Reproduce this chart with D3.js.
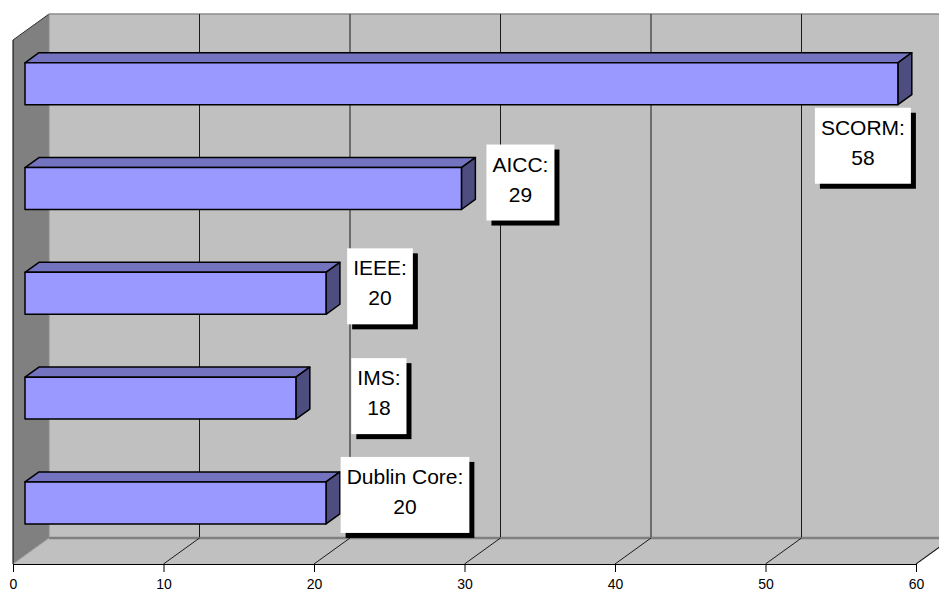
<!DOCTYPE html>
<html>
<head>
<meta charset="utf-8">
<script src="https://cdn.jsdelivr.net/npm/d3@7"></script>
<style>
  html, body { margin: 0; padding: 0; background: #ffffff; }
  svg { display: block; font-family: "Liberation Sans", Arial, sans-serif; }
</style>
</head>
<body>
<svg id="chart" width="939" height="591"></svg>
<script>
// Chart data
const categories = ["SCORM", "AICC", "IEEE", "IMS", "Dublin Core"];
const values = [58, 29, 20, 18, 20];
const tickValues = [0, 10, 20, 30, 40, 50, 60];
// Label box centre offsets (px) from each bar's front right end
const labelOffsetX = [-35, 59, 54, 83, 79];
const labelOffsetY = [62, -6, -7, -2, -8];

const W = 939, H = 591;
const svg = d3.select("#chart");

// Front plane scales
const x = d3.scaleLinear().domain([0, 60]).range([13, 916]);
const y = d3.scaleBand().domain(categories).range([40, 564])
  .paddingInner(0.6).paddingOuter(0.3);

// Oblique depth projection
const DX = 36, DY = -26;
const P = (px, py, t) => [px + DX * t, py + DY * t];
const yTop = 40, yBot = 564;
const barT1 = 1 / 3, barT2 = 0.72;

const poly = pts => "M" + pts.map(p => p.join(",")).join("L") + "Z";

// Back wall
svg.append("path")
  .attr("d", poly([P(x(0), yTop, 1), P(x(60), yTop, 1), P(x(60), yBot, 1), P(x(0), yBot, 1)]))
  .attr("fill", "#c0c0c0");

// Side wall
svg.append("path")
  .attr("d", poly([P(x(0), yTop, 0), P(x(0), yTop, 1), P(x(0), yBot, 1), P(x(0), yBot, 0)]))
  .attr("fill", "#808080");

// Floor
svg.append("path")
  .attr("d", poly([P(x(0), yBot, 0), P(x(60), yBot, 0), P(x(60), yBot, 1), P(x(0), yBot, 1)]))
  .attr("fill", "#c0c0c0");

// Wall edges
const line = (a, b, color, w) => svg.append("line")
  .attr("x1", a[0]).attr("y1", a[1]).attr("x2", b[0]).attr("y2", b[1])
  .attr("stroke", color).attr("stroke-width", w);

line(P(x(0), yTop, 1), P(x(60), yTop, 1), "#8c8c8c", 1.5);
line(P(x(0), yBot, 1), P(x(60), yBot, 1), "#808080", 2.5);
line(P(x(0), yBot, 0), P(x(0), yBot, 1), "#9a9a9a", 1);
line(P(x(60), yBot, 0), P(x(60), yBot, 1), "#808080", 1.5);
line(P(x(0), yTop, 0), P(x(0), yTop, 1), "#303030", 1);
line(P(x(0), yTop, 0), P(x(0), yBot, 0), "#000000", 1);
line(P(x(0), yTop, 1), P(x(0), yBot, 1), "#8a8a8a", 1);

// Gridlines on back wall and floor
tickValues.filter(v => v > 0).forEach(v => {
  line(P(x(v), yTop, 1), P(x(v), yBot - 1, 1), "#1a1a1a", 1);
  line(P(x(v), yBot, 0), P(x(v), yBot, 1), "#1a1a1a", 1);
});

// Value axis on the front floor edge
const axis = d3.axisBottom(x).tickValues(tickValues).tickSize(8).tickSizeOuter(0)
  .tickFormat(d3.format("d"));
const gAxis = svg.append("g").attr("transform", `translate(0,${yBot})`).call(axis);
gAxis.select(".domain").attr("stroke", "#000").attr("stroke-width", 1.2);
gAxis.selectAll(".tick line").attr("stroke", "#000");
gAxis.selectAll(".tick text")
  .attr("font-family", "Liberation Sans, Arial, sans-serif")
  .attr("font-size", 14).attr("fill", "#000").attr("dy", "0.98em");

// 3D bars
const data = categories.map((c, i) => ({ c, v: values[i], i }));
const gBars = svg.append("g");
data.forEach(d => {
  const x0 = x(0), x1 = x(d.v);
  const y0 = y(d.c), y1 = y(d.c) + y.bandwidth();
  const g = gBars.append("g");
  const ftl = P(x0, y0, barT1), ftr = P(x1, y0, barT1), fbr = P(x1, y1, barT1), fbl = P(x0, y1, barT1);
  const btl = P(x0, y0, barT2), btr = P(x1, y0, barT2), bbr = P(x1, y1, barT2);
  g.append("path").attr("d", poly([ftl, ftr, btr, btl]))
    .attr("fill", "#7373c0").attr("stroke", "#000").attr("stroke-width", 1.5).attr("stroke-linejoin", "round");
  g.append("path").attr("d", poly([ftr, btr, bbr, fbr]))
    .attr("fill", "#4d4d80").attr("stroke", "#000").attr("stroke-width", 1.5).attr("stroke-linejoin", "round");
  g.append("path").attr("d", poly([ftl, ftr, fbr, fbl]))
    .attr("fill", "#9999ff").attr("stroke", "#000").attr("stroke-width", 1.5).attr("stroke-linejoin", "round");
});

// Data labels: white box with drop shadow
const gLab = svg.append("g");
data.forEach(d => {
  const end = P(x(d.v), y(d.c) + y.bandwidth() / 2, barT1);
  const cx = end[0] + labelOffsetX[d.i];
  const cy = end[1] + labelOffsetY[d.i];
  const g = gLab.append("g");
  const shadow = g.append("rect").attr("fill", "#000");
  const box = g.append("rect").attr("fill", "#fff");
  const t1 = g.append("text").attr("x", cx).attr("text-anchor", "middle")
    .attr("font-size", 21).attr("fill", "#000").text(d.c + ":");
  const t2 = g.append("text").attr("x", cx).attr("text-anchor", "middle")
    .attr("font-size", 21).attr("fill", "#000").text(d.v);
  const tw = Math.max(t1.node().getComputedTextLength(), t2.node().getComputedTextLength());
  const bw = tw + 12, bh = 76;
  const bx = cx - bw / 2, by = cy - bh / 2;
  box.attr("x", bx).attr("y", by).attr("width", bw).attr("height", bh);
  shadow.attr("x", bx + 5).attr("y", by + 5).attr("width", bw).attr("height", bh);
  t1.attr("y", by + 27);
  t2.attr("y", by + 57);
});
</script>
</body>
</html>
